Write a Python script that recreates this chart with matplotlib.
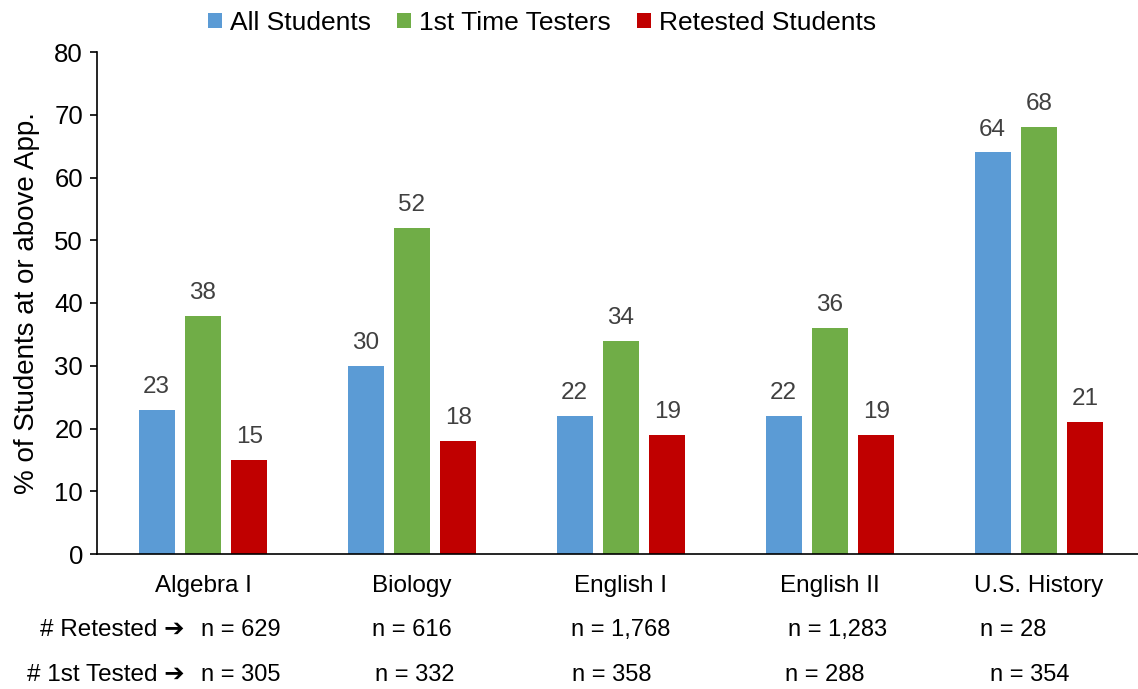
import matplotlib
matplotlib.use("Agg")
import matplotlib.pyplot as plt
import numpy as np

categories = ["Algebra I", "Biology", "English I", "English II", "U.S. History"]
series_names = ["All Students", "1st Time Testers", "Retested Students"]
all_students = [23, 30, 22, 22, 64]
first_time = [38, 52, 34, 36, 68]
retested = [15, 18, 19, 19, 21]
n_retested = ["n = 629", "n = 616", "n = 1,768", "n = 1,283", "n = 28"]
n_first = ["n = 305", "n = 332", "n = 358", "n = 288", "n = 354"]
row_labels = ["# Retested \u2794", "# 1st Tested \u2794"]
yticks = [0, 10, 20, 30, 40, 50, 60, 70, 80]

colors = ["#5B9BD5", "#70AD47", "#C00000"]

plt.rcParams['font.family'] = ['Liberation Sans', 'DejaVu Sans']

W, H = 1138, 689
fig = plt.figure(figsize=(W / 100, H / 100), dpi=100)
ax = fig.add_axes([97 / W, (H - 554) / H, (1138 - 97) / W, (554 - 52) / H])

x = np.arange(len(categories))
width = 0.172
offset = 0.222
for i, (vals, name, c) in enumerate(zip([all_students, first_time, retested], series_names, colors)):
    pos = x + (i - 1) * offset
    bars = ax.bar(pos, vals, width=width, color=c, label=name)
    for b, v in zip(bars, vals):
        ax.annotate(str(v), (b.get_x() + b.get_width() / 2, v), xytext=(0, 8.5),
                    textcoords="offset points", ha="center", va="bottom",
                    fontsize=17.5, color="#404040")

ax.set_xlim(-0.507, 4.474)
ax.set_ylim(0, 80)
ax.set_yticks(yticks)
ax.set_xticks(x)
ax.set_xticklabels(categories, fontsize=17.5)
ax.tick_params(axis='x', length=0, pad=15)
ax.tick_params(axis='y', labelsize=18.5, length=5, width=1.2, direction='out', pad=5)
for s in ['top', 'right']:
    ax.spines[s].set_visible(False)
for s in ['left', 'bottom']:
    ax.spines[s].set_linewidth(1.2)
    ax.spines[s].set_color('black')
ax.set_ylabel("% of Students at or above App.", fontsize=20, labelpad=10.5)

fig.legend(loc='center', bbox_to_anchor=(542 / W, (H - 23) / H), ncol=3, frameon=False,
           fontsize=19, handlelength=0.52, handleheight=0.52, handletextpad=0.3,
           columnspacing=1.0, borderpad=0, borderaxespad=0)

row_y = [630, 675]
row1_x = [241, 412, 621, 838, 1013]
row2_x = [241, 415, 612, 825, 1030]
for lbl, yy in zip(row_labels, row_y):
    fig.text(185 / W, (H - yy) / H, lbl, ha='right', va='center', fontsize=17.5)
for xx, t in zip(row1_x, n_retested):
    fig.text(xx / W, (H - row_y[0]) / H, t, ha='center', va='center', fontsize=17)
for xx, t in zip(row2_x, n_first):
    fig.text(xx / W, (H - row_y[1]) / H, t, ha='center', va='center', fontsize=17)

fig.savefig("out.png", dpi=100)
